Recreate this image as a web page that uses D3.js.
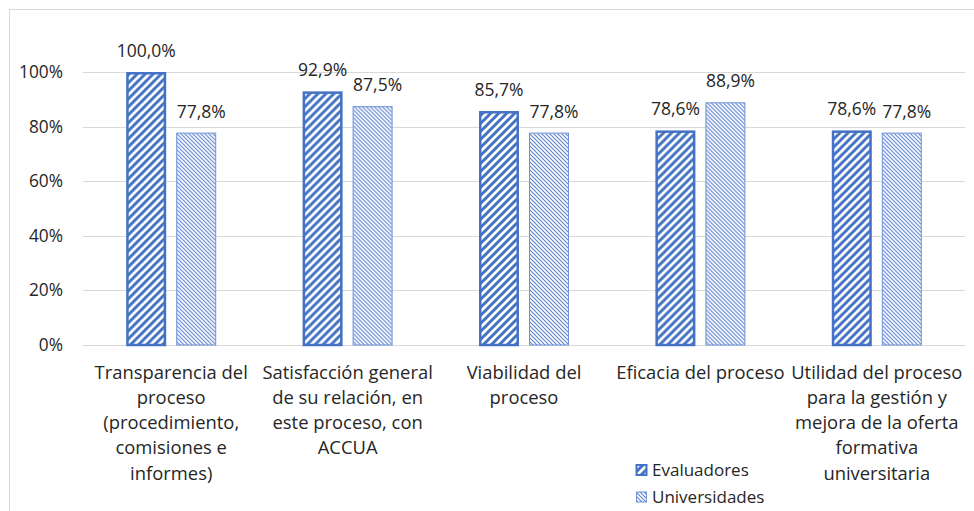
<!DOCTYPE html>
<html><head><meta charset="utf-8">
<script src="https://cdn.jsdelivr.net/npm/d3@7"></script>
<style>body{margin:0;background:#fff}svg{display:block}text{font-family:"Open Sans",Lato,sans-serif;fill:#262626}</style>
</head><body><svg id="c" width="974" height="511"></svg>
<script>
const categories = [
  ["Transparencia del","proceso","(procedimiento,","comisiones e","informes)"],
  ["Satisfacción general","de su relación, en","este proceso, con","ACCUA"],
  ["Viabilidad del","proceso"],
  ["Eficacia del proceso"],
  ["Utilidad del proceso","para la gestión y","mejora de la oferta","formativa","universitaria"]
];
const seriesNames = ["Evaluadores","Universidades"];
const evaluadores = [100.0, 92.9, 85.7, 78.6, 78.6];
const universidades = [77.8, 87.5, 77.8, 88.9, 77.8];
const yTicks = [0,20,40,60,80,100];

const svg = d3.select("#c");
const defs = svg.append("defs");
const p1 = defs.append("pattern").attr("id","pEval").attr("patternUnits","userSpaceOnUse").attr("width",8).attr("height",8);
p1.append("rect").attr("width",8).attr("height",8).attr("fill","#fff");
p1.append("path").attr("d","M-2,10 L10,-2 M-2,2 L2,-2 M6,10 L10,6").attr("stroke","#4472C4").attr("stroke-width",3);
const p2 = defs.append("pattern").attr("id","pUni").attr("patternUnits","userSpaceOnUse").attr("width",4).attr("height",4);
p2.append("rect").attr("width",4).attr("height",4).attr("fill","#fff");
p2.append("path").attr("d","M-1,-1 L5,5 M-1,3 L1,5 M3,-1 L5,1").attr("stroke","#5B82CC").attr("stroke-width",1.1);

// chart border
svg.append("rect").attr("x",9.5).attr("y",9.5).attr("width",1000).attr("height",600).attr("fill","none").attr("stroke","#D9D9D9");

const pLeft=83, pRight=965, pTop=72, pBottom=345;
const x = d3.scaleBand().domain(d3.range(categories.length)).range([pLeft,pRight]).paddingInner(0).paddingOuter(0);
const y = d3.scaleLinear().domain([0,100]).range([pBottom, pTop]);
const xs = d3.scaleBand().domain(seriesNames).range([-45,45]).paddingInner(0.2).paddingOuter(0);

// gridlines
svg.append("g").selectAll("line").data(yTicks).join("line")
  .attr("x1",pLeft).attr("x2",pRight).attr("y1",d=>Math.round(y(d))+0.5).attr("y2",d=>Math.round(y(d))+0.5)
  .attr("stroke","#D9D9D9").attr("stroke-width",1);

// y axis labels
const yAxis = d3.axisLeft(y).tickValues(yTicks).tickFormat(d=>d+"%").tickSize(0).tickPadding(0);
const ga = svg.append("g").attr("transform",`translate(63,0)`).call(yAxis);
ga.select(".domain").remove();
ga.selectAll("text").attr("font-size",17.3).style("font-family","'Open Sans', Lato, sans-serif").attr("fill","#262626");

const data = categories.map((c,i)=>({i, vals:[{s:"Evaluadores",v:evaluadores[i]},{s:"Universidades",v:universidades[i]}]}));
const fmt = v => v.toFixed(1).replace(".",",")+"%";

const groups = svg.append("g").selectAll("g").data(data).join("g")
  .attr("transform",d=>`translate(${x(d.i)+x.bandwidth()/2},0)`);
groups.selectAll("rect").data(d=>d.vals).join("rect")
  .attr("x",d=>xs(d.s)+(d.s==="Evaluadores"?1.25:0.5))
  .attr("width",d=>xs.bandwidth()-(d.s==="Evaluadores"?2.5:1))
  .attr("y",d=>y(d.v)+(d.s==="Evaluadores"?1.25:0.5))
  .attr("height",d=>y(0)-y(d.v)-(d.s==="Evaluadores"?1.25:0.5))
  .attr("fill",d=>d.s==="Evaluadores"?"url(#pEval)":"url(#pUni)")
  .attr("stroke",d=>d.s==="Evaluadores"?"#4472C4":"#6F93D6")
  .attr("stroke-width",d=>d.s==="Evaluadores"?2.5:1);
groups.selectAll("text.v").data(d=>d.vals).join("text").attr("class","v")
  .attr("x",d=>xs(d.s)+xs.bandwidth()/2+(d.s==="Universidades"?5:0)).attr("y",d=>y(d.v)-15)
  .attr("text-anchor","middle").attr("font-size",17.5).text(d=>fmt(d.v));

// category labels
groups.each(function(d){
  const g=d3.select(this);
  categories[d.i].forEach((line,k)=>{
    g.append("text").attr("x",0).attr("y",378.5+k*25.3).attr("text-anchor","middle").attr("font-size",18.4).text(line);
  });
});

// legend
const leg = svg.append("g").attr("transform","translate(636,0)");
seriesNames.forEach((s,k)=>{
  const yy = 470 + k*27;
  leg.append("rect").attr("x",0.5).attr("y",yy-5).attr("width",10).attr("height",10)
    .attr("fill",k===0?"url(#pEval)":"url(#pUni)").attr("stroke",k===0?"#4472C4":"#6F93D6").attr("stroke-width",k===0?2:1);
  leg.append("text").attr("x",16).attr("y",yy+6).attr("font-size",17).text(s);
});
</script></body></html>
